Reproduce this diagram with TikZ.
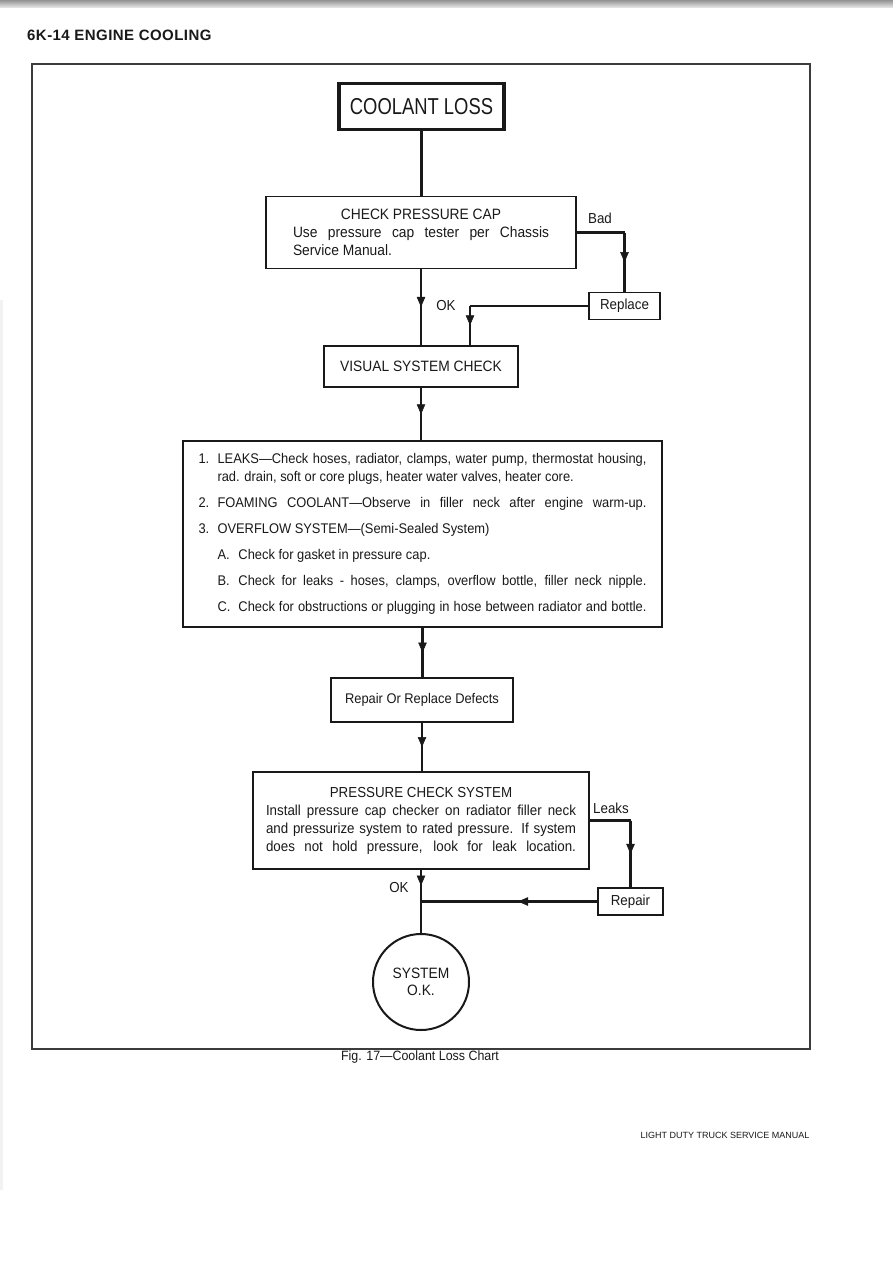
\documentclass[tikz,border=0pt]{standalone}
\usepackage{fontspec}
\setmainfont[FakeStretch=0.92]{Liberation Sans}
\newfontfamily\bigfont[FakeStretch=0.8]{Liberation Sans}
\newfontfamily\plainfont{Liberation Sans}
\newfontfamily\headfont[LetterSpace=3]{Liberation Sans}
\usetikzlibrary{arrows.meta,decorations.markings}
\definecolor{ink}{rgb}{0.1,0.1,0.1}
\tikzset{
  conn/.style={draw=ink, line width=2.7pt},
  midarr/.style={postaction={decorate}, decoration={markings,
     mark=at position #1 with {\arrow[ink, line width=0.5pt]{Triangle[length=10pt,width=8.5pt]}}}},
  midarr/.default=0.5,
  box/.style={draw=ink, line width=1.3pt, fill=white, inner sep=0pt, text=ink},
  lbl/.style={text=ink, inner sep=0pt, font=\fontsize{14.5}{16}\selectfont},
}
\begin{document}
\begin{tikzpicture}[x=1pt,y=-1pt]
\useasboundingbox (0,0) rectangle (893,1263);
\fill[white] (0,0) rectangle (893,1263);
% scan artefacts
\shade[top color=gray!85, bottom color=gray!15] (0,0) rectangle (893,8);
\fill[gray!10] (0,300) rectangle (3,1190);
% header
\node[anchor=west, text=ink, inner sep=0pt, font=\headfont\bfseries\fontsize{15}{17}\selectfont] (head) at (27,35) {6K-14 ENGINE COOLING};
% frame
\draw[ink!85, line width=1.3pt] (32,64) rectangle (810,1049);

% nodes
\node[box, line width=3.2pt, minimum width=165pt, minimum height=46pt,
      font=\bigfont\fontsize{23}{24}\selectfont] (coolant) at (421.5,106.5) {COOLANT LOSS};

\node[box, minimum width=310pt, minimum height=72pt, font=\fontsize{15}{18}\selectfont] (cpc) at (421,232.5)
  {\parbox{256pt}{\centering CHECK PRESSURE CAP\\
   \makebox[256pt][s]{Use pressure cap tester per Chassis}\\
   \makebox[256pt][l]{Service Manual.}}};

\node[box, minimum width=71pt, minimum height=27pt, font=\fontsize{14.5}{16}\selectfont] (replace) at (624.5,306) {Replace};

\node[box, line width=2.6pt, minimum width=194pt, minimum height=41pt, font=\fontsize{15}{17}\selectfont] (visual) at (421,366.5) {VISUAL SYSTEM CHECK};

\node[box, line width=1.4pt, minimum width=479pt, minimum height=186pt, font=\fontsize{14}{18}\selectfont] (list) at (422.5,534)
  {\parbox{448pt}{%
   \makebox[19pt][l]{1.}\makebox[429pt][s]{LEAKS—Check hoses, radiator, clamps, water pump, thermostat housing,}\\
   \hspace*{19pt}rad. drain, soft or core plugs, heater water valves, heater core.\\[8pt]
   \makebox[19pt][l]{2.}\makebox[429pt][s]{FOAMING COOLANT—Observe in filler neck after engine warm-up.}\\[8pt]
   \makebox[19pt][l]{3.}OVERFLOW SYSTEM—(Semi-Sealed System)\\[8pt]
   \hspace*{19pt}\makebox[21pt][l]{A.}Check for gasket in pressure cap.\\[8pt]
   \hspace*{19pt}\makebox[21pt][l]{B.}\makebox[408pt][s]{Check for leaks - hoses, clamps, overflow bottle, filler neck nipple.}\\[8pt]
   \hspace*{19pt}\makebox[21pt][l]{C.}\makebox[408pt][s]{Check for obstructions or plugging in hose between radiator and bottle.}}};

\node[box, minimum width=182pt, minimum height=44pt, font=\fontsize{14}{16}\selectfont] (rrd) at (422,700) {Repair Or Replace Defects};

\node[box, minimum width=336pt, minimum height=97pt, font=\fontsize{14.5}{18}\selectfont] (pcs) at (421,820.5)
  {\parbox{310pt}{\centering PRESSURE CHECK SYSTEM\\
   \makebox[310pt][s]{Install pressure cap checker on radiator filler neck}\\
   \makebox[310pt][s]{and pressurize system to rated pressure. If system}\\
   \makebox[310pt][s]{does not hold pressure, look for leak location.}}};

\node[box, minimum width=65pt, minimum height=27pt, font=\fontsize{14.5}{16}\selectfont] (repair) at (630.5,901.5) {Repair};

\node[draw=ink, circle, line width=2pt, minimum size=96pt, inner sep=0pt, align=center, text=ink,
      font=\fontsize{15}{17}\selectfont] (sysok) at (421,982) {SYSTEM\\O.K.};

% labels
\node[lbl] (okA) at (446,306) {OK};
\node[lbl] (bad) at (600,218) {Bad};
\node[lbl] (leaks) at (611,808) {Leaks};
\node[lbl] (okB) at (399,887) {OK};

% helper coordinates
\coordinate (badc) at (replace.north |- cpc.east);
\coordinate (repc) at (470,306);
\coordinate (repd) at (repc |- visual.north);
\coordinate (leakc) at (repair.north |- pcs.east);
\coordinate (join) at (pcs.south |- repair.west);

% connectors
\draw[conn] (coolant.south) -- (coolant.south |- cpc.north);
\draw[conn, midarr] (cpc.south) -- (cpc.south |- visual.north);
\draw[conn] (cpc.east) -- (badc);
\draw[conn, midarr] (badc) -- (replace.north);
\draw[conn] (replace.west) -- (repc);
\draw[conn, midarr] (repc) -- (repd);
\draw[conn, midarr] (visual.south) -- (visual.south |- list.north);
\draw[conn, midarr] (list.south) -- (list.south |- rrd.north);
\draw[conn, midarr] (rrd.south) -- (rrd.south |- pcs.north);
\draw[conn] (pcs.east) -- (leakc);
\draw[conn, midarr] (leakc) -- (repair.north);
\draw[conn, midarr=0.45] (repair.west) -- (join);
\draw[conn, midarr] (pcs.south) -- (join);
\draw[conn] (join) -- (sysok.north);

% caption and footer
\node[text=ink, inner sep=0pt, font=\fontsize{13.5}{15}\selectfont] (caption) at (420,1057) {Fig. 17—Coolant Loss Chart};
\node[text=ink, inner sep=0pt, font=\plainfont\fontsize{9}{10}\selectfont] (foot) at (725,1135) {LIGHT DUTY TRUCK SERVICE MANUAL};
\end{tikzpicture}
\end{document}
